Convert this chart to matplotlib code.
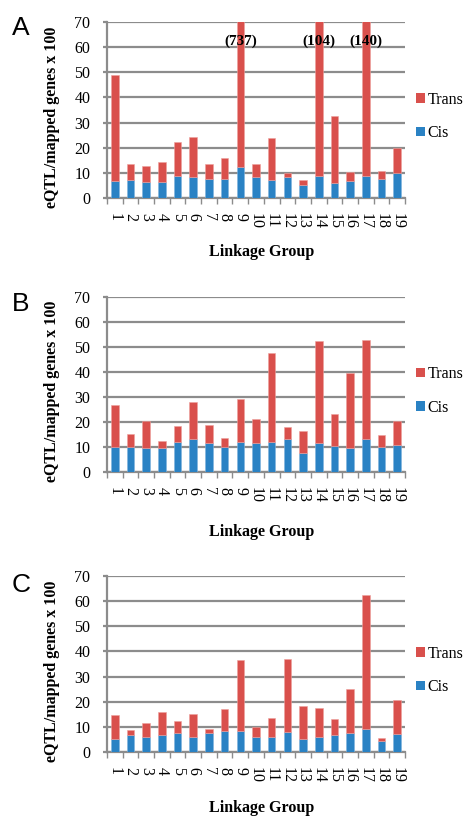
import matplotlib
matplotlib.use("Agg")
import matplotlib.pyplot as plt
from matplotlib.patches import Patch
import numpy as np

groups = [str(i) for i in range(1, 20)]

# Panel A
cis_a = [6.7, 7.3, 6.2, 6.5, 8.9, 8.3, 7.5, 7.4, 12.3, 8.3, 7.1, 8.2, 5.0, 8.9, 5.9, 6.6, 8.9, 7.7, 9.8]
total_a = [48.9, 13.6, 12.8, 14.4, 22.1, 24.3, 13.6, 16.0, 737, 13.6, 23.9, 9.9, 7.0, 104, 32.5, 10.4, 140, 10.8, 19.9]
# Panel B
cis_b = [10.0, 10.0, 9.6, 9.6, 12.0, 13.1, 11.6, 9.8, 12.0, 11.6, 12.0, 13.3, 7.6, 11.6, 10.2, 9.4, 13.0, 10.0, 10.8]
total_b = [26.8, 15.0, 20.5, 12.4, 18.2, 28.0, 18.9, 13.5, 29.3, 21.1, 47.7, 18.1, 16.2, 52.3, 23.0, 39.6, 52.7, 14.6, 20.5]
# Panel C
cis_c = [5.2, 6.7, 5.8, 6.6, 7.5, 6.1, 7.5, 8.3, 8.2, 6.0, 6.1, 7.9, 5.3, 6.0, 6.6, 7.4, 9.1, 4.4, 7.1]
total_c = [14.6, 8.9, 11.5, 16.0, 12.3, 15.1, 9.1, 17.3, 36.6, 9.9, 13.5, 36.9, 18.4, 17.6, 13.0, 25.1, 62.4, 5.7, 20.8]

yticks = [0, 10, 20, 30, 40, 50, 60, 70]
panel_letters = ["A", "B", "C"]
ylabel = "eQTL/mapped genes x 100"
xlabel = "Linkage Group"

RED = "#D9504C"
BLUE = "#2A82C4"
GRID = "#8C8C8C"
serif = ["Liberation Serif", "DejaVu Serif"]

fig = plt.figure(figsize=(4.67, 8.17), dpi=100)

W, H = 467, 817
def ax_rect(left, right, top, bottom):
    return [left / W, 1 - bottom / H, (right - left) / W, (bottom - top) / H]

rects = [ax_rect(107, 405, 22, 198), ax_rect(107, 405, 297, 472), ax_rect(107, 405, 576, 752)]
ax_h = [176, 175, 176]
letter_y = [28, 304, 585]
xlabel_off = [54, 60, 56]
data = [(cis_a, total_a), (cis_b, total_b), (cis_c, total_c)]

for k, (rect, (cis, total)) in enumerate(zip(rects, data)):
    ax = fig.add_axes(rect)
    x = np.arange(len(groups))
    cis_arr = np.array(cis)
    trans_arr = np.array(total) - cis_arr
    ax.bar(x, cis_arr, width=0.48, color=BLUE, edgecolor="#7fb3dc", linewidth=0.4, zorder=3)
    ax.bar(x, trans_arr, bottom=cis_arr, width=0.48, color=RED, edgecolor="#eea09d", linewidth=0.4, zorder=3)
    ax.set_xlim(-0.5, len(groups) - 0.5)
    ax.set_ylim(0, 70)
    ax.set_yticks(yticks)
    ax.set_yticklabels([str(t) for t in yticks], family=serif, fontsize=11.5)
    ax.yaxis.grid(True, color=GRID, linewidth=1.6, zorder=0)
    ax.set_axisbelow(True)
    ax.tick_params(axis="y", length=3, width=1.6, color=GRID, pad=9)
    # category labels
    ax.set_xticks(x)
    ax.set_xticklabels(groups, rotation=-90, family=serif, fontsize=11.5)
    ax.tick_params(axis="x", which="major", length=0, pad=11)
    ax.set_xticks(np.arange(-0.5, len(groups), 1), minor=True)
    ax.tick_params(axis="x", which="minor", length=4, width=1, color=GRID, direction="out")
    for s in ["top", "right"]:
        ax.spines[s].set_visible(False)
    for s in ["left", "bottom"]:
        ax.spines[s].set_color(GRID)
        ax.spines[s].set_linewidth(1.6)
    ax.set_ylabel(ylabel, family=serif, fontsize=11.5, fontweight="bold", va="center")
    ax.yaxis.set_label_coords((52 - 107) / 298, 0.46)
    ax.set_xlabel(xlabel, family=serif, fontsize=11.5, fontweight="bold", va="center")
    ax.xaxis.set_label_coords(0.52, -xlabel_off[k] / ax_h[k])
    handles = [Patch(facecolor=RED, label="Trans"), Patch(facecolor=BLUE, label="Cis")]
    ax.legend(handles=handles, loc="center left", bbox_to_anchor=(1.0, 0.5 - 6.5 / ax_h[k]),
              frameon=False, prop={"family": serif, "size": 11.5},
              handlelength=0.55, handleheight=0.55, handletextpad=0.15,
              labelspacing=1.1, borderaxespad=0.3)
    if k == 0:
        for i, t in enumerate(total):
            if t > 70:
                ax.text(i, 62.5, f"({int(t)})", ha="center", va="center", family=serif,
                        fontsize=11, fontweight="bold", zorder=5)
    fig.text(12 / W, 1 - letter_y[k] / H, panel_letters[k], family=["Liberation Sans", "DejaVu Sans"],
             fontsize=19, ha="left", va="center")

fig.savefig("out.png", dpi=100)
